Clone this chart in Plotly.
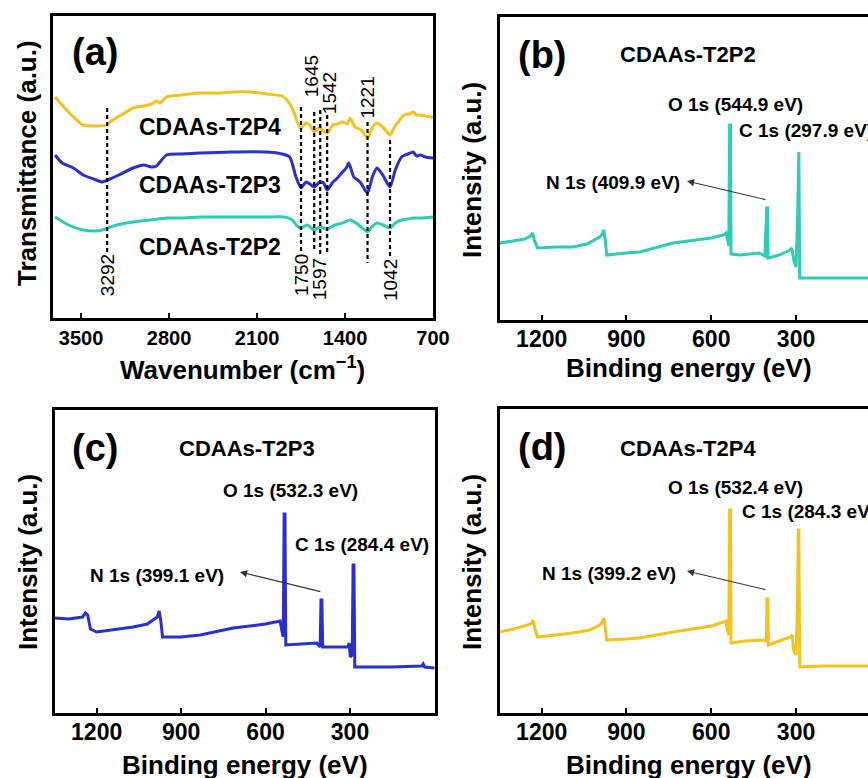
import plotly.graph_objects as go

W, H = 868, 778
FONT = "Liberation Sans, Arial, sans-serif"

# ---------------- Data: FTIR (panel a) ----------------
wn_t2p4 = [3707, 3600, 3484, 3380, 3292, 3270, 3180, 3086, 3000, 2940, 2900, 2872, 2820, 2700, 2553, 2400,
           2291, 2150, 2021, 1900, 1862, 1813, 1773, 1750, 1710, 1680, 1645, 1610, 1597, 1570, 1542, 1496,
           1460, 1420, 1380, 1360, 1320, 1270, 1221, 1180, 1145, 1100, 1042, 1010, 977, 930, 890, 858,
           830, 800, 760, 700]
tr_t2p4 = [221, 206, 193, 192, 193, 196, 203, 210, 212, 214, 217, 215, 221, 223, 225, 225,
           226, 226, 224, 222, 218, 208, 194, 190, 195, 193, 186, 190, 190, 187, 185, 193,
           194, 196, 194, 200, 191, 188, 180, 191, 195, 191, 183, 190, 196, 203, 204, 206,
           203, 203, 202, 201]

wn_t2p3 = [3707, 3650, 3560, 3484, 3400, 3330, 3270, 3200, 3086, 3000, 2940, 2900, 2872, 2820, 2700, 2553,
           2300, 2021, 1900, 1840, 1790, 1750, 1710, 1680, 1645, 1600, 1570, 1542, 1496, 1460, 1420, 1390,
           1370, 1330, 1280, 1221, 1180, 1145, 1100, 1042, 1000, 950, 900, 858, 830, 800, 760, 700]
tr_t2p3 = [163, 155, 150, 143, 139, 136, 139, 143, 150, 153, 151, 152, 156, 163, 164, 165,
           166, 166, 164, 161, 141, 130, 136, 134, 131, 136, 135, 128, 136, 140, 146, 150,
           155, 141, 136, 125, 142, 150, 143, 131, 148, 161, 164, 166, 162, 163, 161, 160]

wn_t2p2 = [3707, 3600, 3484, 3400, 3330, 3270, 3180, 3086, 2950, 2820, 2700, 2553, 2300, 2050, 1880, 1820,
           1780, 1750, 1700, 1645, 1597, 1570, 1542, 1480, 1420, 1360, 1300, 1221, 1180, 1145, 1100, 1042,
           1000, 950, 900, 858, 800, 700]
tr_t2p2 = [101, 93, 88, 87, 88, 91, 94, 96, 98, 100, 100, 101, 101, 101, 101, 98,
           92, 90, 93, 88, 91, 90, 89, 93, 95, 98, 94, 86, 92, 95, 93, 90,
           95, 98, 99, 100, 100, 101]

ftir_peaks = [3292, 1750, 1645, 1597, 1542, 1221, 1042]
ftir_peak_labels = ["3292", "1750", "1645", "1597", "1542", "1221", "1042"]
ftir_ticks = [3500, 2800, 2100, 1400, 700]

# ---------------- Data: XPS survey (panels b, c, d) ----------------
be_t2p2 = [1348, 1300, 1260, 1240, 1232, 1226, 1215, 1150, 1090, 1040, 995, 985, 980, 975, 970, 900,
           853, 735, 600, 556, 548, 542, 538, 535, 532, 530, 500, 430, 410, 404, 401, 399,
           360, 321, 315, 308, 300, 295, 292, 290, 287, 200, 45]
int_t2p2 = [77, 79, 81, 84, 87, 80, 72, 73, 73, 76, 83, 86, 90, 80, 65, 67,
            68, 77, 82, 85, 87, 80, 74, 195, 195, 66, 65, 67, 64, 112, 112, 62,
            65, 70, 72, 60, 53, 95, 168, 168, 42, 42, 42]

be_t2p3 = [1348, 1300, 1250, 1240, 1232, 1222, 1200, 1150, 1070, 1020, 998, 985, 978, 972, 966, 900,
           832, 715, 600, 555, 548, 542, 537, 534, 531, 528, 480, 418, 406, 403, 400, 397,
           350, 307, 303, 299, 292, 289, 286, 283, 150, 45, 40, 35, 0]
int_t2p3 = [95, 94, 96, 100, 98, 84, 81, 83, 86, 89, 93, 96, 102, 92, 76, 76,
            78, 85, 89, 91, 92, 82, 76, 199, 199, 68, 69, 70, 66, 113, 113, 66,
            66, 66, 70, 56, 58, 148, 148, 46, 46, 47, 49, 46, 45]

be_t2p4 = [1348, 1300, 1250, 1235, 1230, 1224, 1215, 1150, 1090, 1030, 995, 985, 980, 975, 970, 900,
           853, 735, 600, 556, 548, 542, 538, 535, 532, 530, 480, 410, 405, 403, 400, 398,
           360, 320, 314, 308, 300, 295, 292, 290, 287, 200, 45]
int_t2p4 = [81, 84, 88, 90, 93, 84, 76, 78, 80, 83, 88, 91, 95, 85, 73, 74,
            75, 81, 87, 91, 92, 82, 78, 203, 203, 70, 72, 73, 71, 114, 114, 68,
            72, 76, 78, 62, 58, 110, 183, 183, 46, 47, 47]

xps_ticks = [1200, 900, 600, 300]

samples = ["CDAAs-T2P2", "CDAAs-T2P3", "CDAAs-T2P4"]
colors = {"CDAAs-T2P2": "#2ECDB2", "CDAAs-T2P3": "#2A30CE", "CDAAs-T2P4": "#F4C21E"}

xps_labels = {
    "CDAAs-T2P2": ["O 1s (544.9 eV)", "C 1s (297.9 eV)", "N 1s (409.9 eV)"],
    "CDAAs-T2P3": ["O 1s (532.3 eV)", "C 1s (284.4 eV)", "N 1s (399.1 eV)"],
    "CDAAs-T2P4": ["O 1s (532.4 eV)", "C 1s (284.3 eV)", "N 1s (399.2 eV)"],
}

# ---------------- Figure ----------------
def dom_x(l, r):
    return [l / W, min(r / W, 1.0)]

def dom_y(t, b):
    return [1 - b / H, 1 - t / H]

def P(px, py):
    return px / W, 1 - py / H

fig = go.Figure()

for name, xs, ys in [("CDAAs-T2P4", wn_t2p4, tr_t2p4), ("CDAAs-T2P3", wn_t2p3, tr_t2p3), ("CDAAs-T2P2", wn_t2p2, tr_t2p2)]:
    fig.add_trace(go.Scatter(x=xs, y=ys, mode="lines",
                             line=dict(color=colors[name], width=3, shape="spline", smoothing=0.6),
                             xaxis="x", yaxis="y", showlegend=False))

for name, xs, ys, ax in [("CDAAs-T2P2", be_t2p2, int_t2p2, "2"), ("CDAAs-T2P3", be_t2p3, int_t2p3, "3"),
                         ("CDAAs-T2P4", be_t2p4, int_t2p4, "4")]:
    fig.add_trace(go.Scatter(x=xs, y=ys, mode="lines", line=dict(color=colors[name], width=3),
                             xaxis="x" + ax, yaxis="y" + ax, showlegend=False))

def xaxis_style(size, standoff):
    return dict(showline=True, linecolor="black", linewidth=2.5, showgrid=False, zeroline=False,
                ticks="inside", ticklen=5, tickwidth=2, tickcolor="black", automargin=False,
                tickfont=dict(family=FONT, size=size, color="black", weight="bold"),
                ticklabelstandoff=standoff)

yaxis_common = dict(showline=True, linecolor="black", linewidth=2.5, showgrid=False, zeroline=False,
                    ticks="", showticklabels=False, automargin=False)

fig.update_layout(
    template="none",
    width=W, height=H, autosize=False, margin=dict(l=0, r=0, t=0, b=0, pad=0),
    paper_bgcolor="white", plot_bgcolor="white",
    font=dict(family=FONT, color="black"),
    xaxis=dict(domain=dom_x(53, 433), range=[3723, 700], tickvals=ftir_ticks, mirror=True, anchor="y", **xaxis_style(20, 0)),
    yaxis=dict(domain=dom_y(16, 318), range=[0, 302], mirror=True, anchor="x", **yaxis_common),
    xaxis2=dict(domain=dom_x(500, 868), range=[1347.5, 45.4], tickvals=xps_ticks, mirror=True, anchor="y2", **xaxis_style(23, -3)),
    yaxis2=dict(domain=dom_y(17, 320), range=[0, 303], mirror=False, anchor="x2", **yaxis_common),
    xaxis3=dict(domain=dom_x(55, 435), range=[1348, -2], tickvals=xps_ticks, mirror=True, anchor="y3", **xaxis_style(23, -3)),
    yaxis3=dict(domain=dom_y(410, 713), range=[0, 303], mirror=True, anchor="x3", **yaxis_common),
    xaxis4=dict(domain=dom_x(500, 868), range=[1347.5, 45.4], tickvals=xps_ticks, mirror=True, anchor="y4", **xaxis_style(23, -3)),
    yaxis4=dict(domain=dom_y(409, 713), range=[0, 304], mirror=False, anchor="x4", **yaxis_common),
)

# dashed peak markers in FTIR panel
dash_span = {3292: (210, 65), 1750: (211, 65), 1645: (206, 68), 1597: (208, 62),
             1542: (203, 63), 1221: (196, 55), 1042: (178, 61)}
label_pos = {3292: 43, 1750: 43, 1645: 242, 1597: 39, 1542: 225, 1221: 220, 1042: 38}
label_shift = {3292: 0, 1750: 0, 1645: -2, 1597: -1, 1542: 3, 1221: 0, 1042: 0}
for wn, lab in zip(ftir_peaks, ftir_peak_labels):
    y0, y1 = dash_span[wn]
    fig.add_shape(type="line", xref="x", yref="y", x0=wn, x1=wn, y0=y0, y1=y1,
                  line=dict(color="black", width=2.2, dash="4px,3px"))
    fig.add_annotation(xref="x", yref="y", x=wn, y=label_pos[wn], text=lab, textangle=-90,
                       showarrow=False, xshift=label_shift[wn],
                       font=dict(family=FONT, size=19, color="black"))

def text(px, py, s, size, bold=True, angle=0, xanchor="center"):
    x, y = P(px, py)
    fig.add_annotation(xref="paper", yref="paper", x=x, y=y, text=(f"<b>{s}</b>" if bold else s),
                       showarrow=False, textangle=angle, xanchor=xanchor, yanchor="middle",
                       font=dict(family=FONT, size=size, color="black"))

# panel letters
text(95, 52, "(a)", 38)
text(542, 55, "(b)", 38)
text(95, 448, "(c)", 38)
text(542, 447, "(d)", 38)

# FTIR sample labels
text(210, 127, samples[2], 23)
text(210, 185, samples[1], 23)
text(210, 247, samples[0], 23)

# XPS titles
text(688, 55, samples[0], 22)
text(247, 448, samples[1], 22)
text(688, 448, samples[2], 22)

# XPS peak labels
lb = xps_labels["CDAAs-T2P2"]
text(735, 105, lb[0], 19)
text(737, 130, lb[1], 19, xanchor="left")
text(613, 183, lb[2], 19)
lc = xps_labels["CDAAs-T2P3"]
text(290, 490, lc[0], 19)
text(362, 544, lc[1], 19)
text(157, 575, lc[2], 19)
ld = xps_labels["CDAAs-T2P4"]
text(735, 487, ld[0], 19)
text(740, 512, ld[1], 19, xanchor="left")
text(609, 573, ld[2], 19)

# arrows from N 1s peaks to labels
for xa, ya, (hx, hy), (tx, ty) in [("x2", "y2", (686, 139), (403, 120)),
                                   ("x3", "y3", (691, 141), (400, 121)),
                                   ("x4", "y4", (686, 142), (403, 123))]:
    fig.add_annotation(xref=xa, yref=ya, x=hx, y=hy, axref=xa, ayref=ya, ax=tx, ay=ty,
                       text="", showarrow=True, arrowhead=2, arrowsize=1.3, arrowwidth=1.1,
                       arrowcolor="#333333", standoff=0, startstandoff=0)

# axis titles
text(242, 368, "Wavenumber (cm<sup>−1</sup>)", 26)
text(689, 368, "Binding energy (eV)", 26)
text(245, 765, "Binding energy (eV)", 26)
text(689, 765, "Binding energy (eV)", 26)
text(27, 163, "Transmittance (a.u.)", 26, angle=-90)
text(472, 170, "Intensity (a.u.)", 26, angle=-90)
text(28, 562, "Intensity (a.u.)", 26, angle=-90)
text(472, 562, "Intensity (a.u.)", 26, angle=-90)

fig.write_html("out.html")
